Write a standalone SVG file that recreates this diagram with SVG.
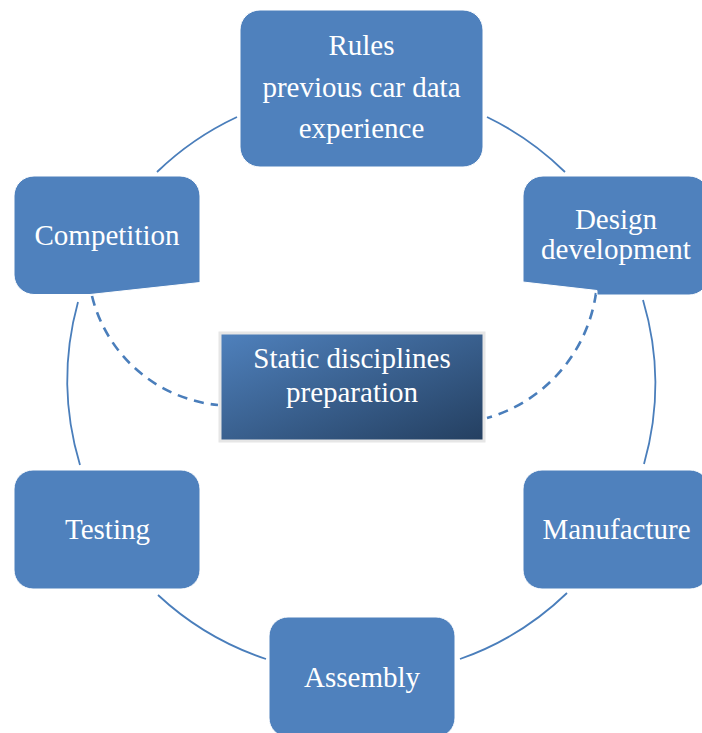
<svg xmlns="http://www.w3.org/2000/svg" width="702" height="733" viewBox="0 0 702 733">
  <defs>
    <linearGradient id="centerFill" x1="0" y1="0" x2="1" y2="1">
      <stop offset="0" stop-color="#4f81bd"/>
      <stop offset="1" stop-color="#243f60"/>
    </linearGradient>
    <style>
      .box { fill: #4f81bd; stroke: #ffffff; stroke-width: 1; }
      .label { font-family: "Liberation Serif", "Times New Roman", serif; font-size: 29px; fill: #ffffff; text-anchor: middle; }
      .ring { fill: none; stroke: #4a7ebb; stroke-width: 1.8; }
      .dash { fill: none; stroke: #4a7ebb; stroke-width: 2.6; stroke-dasharray: 10 7; }
    </style>
  </defs>
  <rect width="702" height="733" fill="#ffffff"/>

  <!-- ring segments between the outer steps, plus the dashed links to the centre -->
  <g id="connectors">
    <path class="ring" d="M157,172 A294,294 0 0 1 237,117"/>
    <path class="ring" d="M487,117 A294,294 0 0 1 565,172"/>
    <path class="ring" d="M643,300 A294,294 0 0 1 644,464"/>
    <path class="ring" d="M567,593 A294,294 0 0 1 460,659"/>
    <path class="ring" d="M266,659 A294,294 0 0 1 158,595"/>
    <path class="ring" d="M80,465 A294,294 0 0 1 78,302"/>
    <path class="dash" d="M92,296 A144,144 0 0 0 218,405"/>
    <path class="dash" d="M596,293 A152,152 0 0 1 487,418"/>
  </g>

  <g id="rules">
    <rect class="box" x="240" y="10" width="243" height="157" rx="20" ry="20"/>
    <text class="label" x="361.5" y="55">Rules</text>
    <text class="label" x="361.5" y="97">previous car data</text>
    <text class="label" x="361.5" y="138">experience</text>
  </g>

  <g id="design-development">
    <path class="box" d="M543,176 H689 A20,20 0 0 1 709,196 V275 A20,20 0 0 1 689,295 H597 V290.5 L523,282 V196 A20,20 0 0 1 543,176 Z"/>
    <text class="label" x="616" y="229">Design</text>
    <text class="label" x="616" y="259">development</text>
  </g>

  <g id="manufacture">
    <rect class="box" x="523" y="470" width="186" height="119" rx="19" ry="19"/>
    <text class="label" x="616.5" y="539">Manufacture</text>
  </g>

  <g id="assembly">
    <rect class="box" x="269" y="617" width="186" height="120" rx="19" ry="19"/>
    <text class="label" x="362" y="687">Assembly</text>
  </g>

  <g id="testing">
    <rect class="box" x="14" y="470" width="186" height="119" rx="19" ry="19"/>
    <text class="label" x="107.5" y="539">Testing</text>
  </g>

  <g id="competition">
    <path class="box" d="M34,176 H180 A20,20 0 0 1 200,196 V282.5 L90,294.5 H34 A20,20 0 0 1 14,275 V196 A20,20 0 0 1 34,176 Z"/>
    <text class="label" x="107" y="245">Competition</text>
  </g>

  <g id="static-disciplines">
    <rect x="220" y="333" width="264" height="108" fill="url(#centerFill)" stroke="#e6e6e6" stroke-width="3"/>
    <text class="label" x="352" y="368">Static disciplines</text>
    <text class="label" x="352" y="402">preparation</text>
  </g>
</svg>
